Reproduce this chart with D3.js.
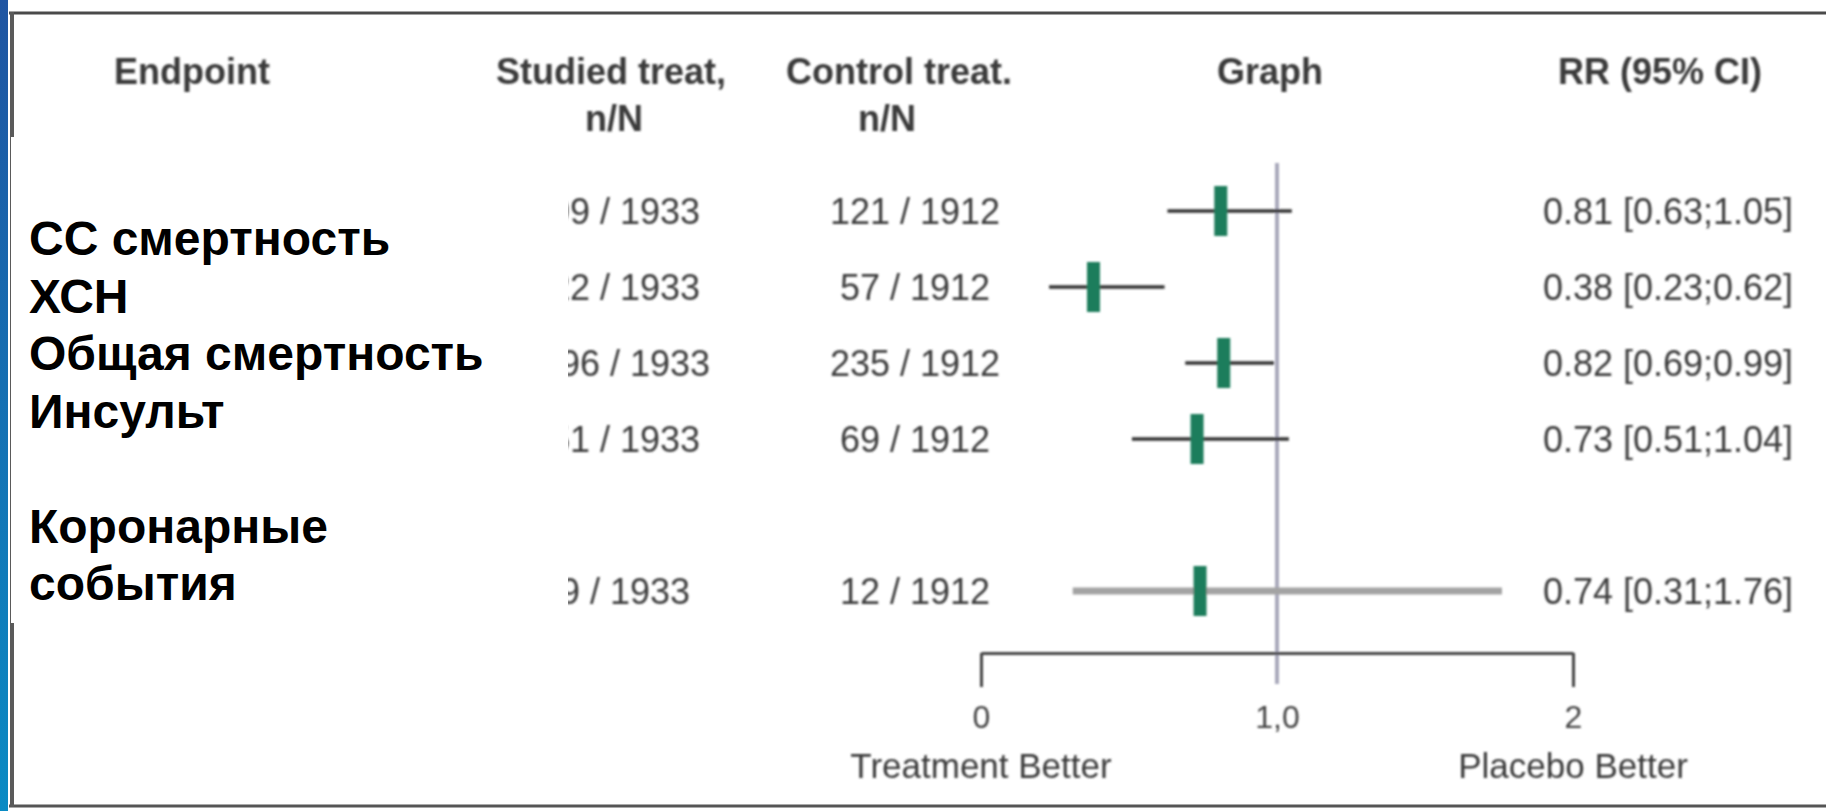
<!DOCTYPE html>
<html>
<head>
<meta charset="utf-8">
<script src="https://cdn.jsdelivr.net/npm/d3@7"></script>
<style>
  html, body { margin: 0; padding: 0; background: #fff; overflow: hidden; }
  svg { display: block; }
</style>
</head>
<body>
<svg id="chart" width="1826" height="811"></svg>
<script>
// ---- Data ----------------------------------------------------------
const endpoints      = ["СС смертность", "ХСН", "Общая смертность", "Инсульт", "Коронарные события"];
const studiedEvents  = [99, 22, 196, 51, 9];
const studiedTotal   = 1933;
const controlEvents  = [121, 57, 235, 69, 12];
const controlTotal   = 1912;
const riskRatio      = [0.81, 0.38, 0.82, 0.73, 0.74];
const ciLow          = [0.63, 0.23, 0.69, 0.51, 0.31];
const ciHigh         = [1.05, 0.62, 0.99, 1.04, 1.76];

const axisTicks      = [0, 1, 2];
const axisTickLabels = ["0", "1,0", "2"];
const sideLabels     = ["Treatment Better", "Placebo Better"];

// Endpoint captions shown in the left panel (one entry per line)
const labelLines = ["СС смертность", "ХСН", "Общая смертность", "Инсульт", "", "Коронарные", "события"];

const headers = [
  { key: "endpoint", lines: ["Endpoint"] },
  { key: "studied",  lines: ["Studied treat,", "n/N"] },
  { key: "control",  lines: ["Control treat.", "n/N"] },
  { key: "graph",    lines: ["Graph"] },
  { key: "rr",       lines: ["RR (95% CI)"] }
];

// ---- Layout ----------------------------------------------------------
const W = 1826, H = 811;
const fmt2 = d3.format(".2f");
const rows = endpoints.map((name, i) => ({
  name,
  studied: `${studiedEvents[i]} / ${studiedTotal}`,
  control: `${controlEvents[i]} / ${controlTotal}`,
  rr: riskRatio[i], lo: ciLow[i], hi: ciHigh[i],
  rrText: `${fmt2(riskRatio[i])} [${fmt2(ciLow[i])};${fmt2(ciHigh[i])}]`
}));

// Row slots: the last endpoint sits one blank slot below the others
const GAP = "__gap__";
const slots = [...endpoints.slice(0, 4), GAP, endpoints[4]];
const y = d3.scalePoint().domain(slots).range([211, 591]);

const x = d3.scaleLinear().domain([0, 2]).range([981, 1573]);

const colX = { endpoint: 192, studied: 611, control: 899, graph: 1270, rr: 1660 };
const subX = { studied: 614, control: 887 };
const cellX = { studied: 625, control: 915, rr: 1668 };

const svg = d3.select("#chart");
const defs = svg.append("defs");

const grad = defs.append("linearGradient")
  .attr("id", "edge").attr("x1", 0).attr("y1", 0).attr("x2", 0).attr("y2", 1);
grad.append("stop").attr("offset", "0%").attr("stop-color", "#1f55a2");
grad.append("stop").attr("offset", "100%").attr("stop-color", "#0a8bc4");

defs.append("filter").attr("id", "soft")
  .attr("x", "-5%").attr("y", "-5%").attr("width", "110%").attr("height", "110%")
  .append("feGaussianBlur").attr("stdDeviation", 0.8);

// ---- Frame -----------------------------------------------------------
svg.append("rect").attr("x", 0).attr("y", 0).attr("width", W).attr("height", H).attr("fill", "#fff");

const frame = svg.append("g");
frame.append("line").attr("x1", 9).attr("x2", W).attr("y1", 13).attr("y2", 13)
  .attr("stroke", "#4a4a4a").attr("stroke-width", 3);
frame.append("line").attr("x1", 9).attr("x2", W).attr("y1", 806).attr("y2", 806)
  .attr("stroke", "#555").attr("stroke-width", 3);
frame.append("line").attr("x1", 12).attr("x2", 12).attr("y1", 12).attr("y2", 807)
  .attr("stroke", "#5a5a5a").attr("stroke-width", 4);

svg.append("rect").attr("x", 0).attr("y", 0).attr("width", 8).attr("height", H)
  .attr("fill", "url(#edge)");

// ---- Table -----------------------------------------------------------
const table = svg.append("g").attr("filter", "url(#soft)")
  .style("font-family", "'Liberation Sans', Arial, sans-serif");

// Column headers
headers.forEach(h => {
  h.lines.forEach((line, j) => {
    table.append("text")
      .attr("x", j === 0 ? colX[h.key] : subX[h.key])
      .attr("y", 84 + j * 47)
      .attr("text-anchor", "middle")
      .attr("font-size", 36)
      .attr("font-weight", "bold")
      .attr("fill", "#3a3a3a")
      .text(line);
  });
});

// Count and ratio cells
const cells = table.append("g")
  .attr("font-size", 36)
  .attr("fill", "#3c3c3c")
  .attr("text-anchor", "middle");

["studied", "control", "rrText"].forEach(k => {
  const cx = k === "rrText" ? cellX.rr : cellX[k];
  cells.selectAll(`text.${k}`)
    .data(rows)
    .join("text")
    .attr("class", k)
    .attr("x", cx)
    .attr("y", d => y(d.name) + 13)
    .text(d => d[k]);
});

// ---- Forest plot -------------------------------------------------------
const plot = table.append("g");

plot.append("line")
  .attr("x1", x(1)).attr("x2", x(1))
  .attr("y1", 163).attr("y2", 684)
  .attr("stroke", "#a9a9bb").attr("stroke-width", 4);

const axis = plot.append("g")
  .attr("transform", "translate(0,653)")
  .call(d3.axisBottom(x)
    .tickValues(axisTicks)
    .tickSize(34)
    .tickSizeOuter(0)
    .tickPadding(18)
    .tickFormat((d, i) => axisTickLabels[i]));
axis.select(".domain").attr("stroke", "#444").attr("stroke-width", 3);
axis.selectAll(".tick line")
  .attr("stroke", "#444").attr("stroke-width", 3)
  .attr("display", d => d === 1 ? "none" : null);
axis.selectAll(".tick text")
  .attr("font-size", 32)
  .attr("fill", "#444")
  .style("font-family", "'Liberation Sans', Arial, sans-serif");

plot.selectAll("text.side")
  .data(sideLabels)
  .join("text")
  .attr("class", "side")
  .attr("x", (d, i) => x(axisTicks[i === 0 ? 0 : 2]))
  .attr("y", 778)
  .attr("text-anchor", "middle")
  .attr("font-size", 35)
  .attr("fill", "#3a3a3a")
  .text(d => d);

// Confidence intervals: very wide intervals are drawn as a pale thick bar
plot.selectAll("line.ci")
  .data(rows)
  .join("line")
  .attr("class", "ci")
  .attr("x1", d => x(d.lo)).attr("x2", d => x(d.hi))
  .attr("y1", d => y(d.name)).attr("y2", d => y(d.name))
  .attr("stroke", d => d.hi - d.lo > 1 ? "#a3a3a3" : "#333")
  .attr("stroke-width", d => d.hi - d.lo > 1 ? 7 : 3.5);

// Point estimates
plot.selectAll("rect.pt")
  .data(rows)
  .join("rect")
  .attr("class", "pt")
  .attr("x", d => x(d.rr) - 6.5)
  .attr("y", d => y(d.name) - 25)
  .attr("width", 13)
  .attr("height", 50)
  .attr("fill", "#1f7d5c");

// ---- Endpoint caption panel ---------------------------------------------
svg.append("rect")
  .attr("x", 11).attr("y", 137).attr("width", 557).attr("height", 486)
  .attr("fill", "#fff");

svg.append("g")
  .style("font-family", "'Liberation Sans', Arial, sans-serif")
  .attr("font-size", 48)
  .attr("font-weight", "bold")
  .attr("fill", "#000")
  .selectAll("text")
  .data(labelLines)
  .join("text")
  .attr("x", 29)
  .attr("y", (d, i) => 255 + i * 57.5)
  .text(d => d);
</script>
</body>
</html>
